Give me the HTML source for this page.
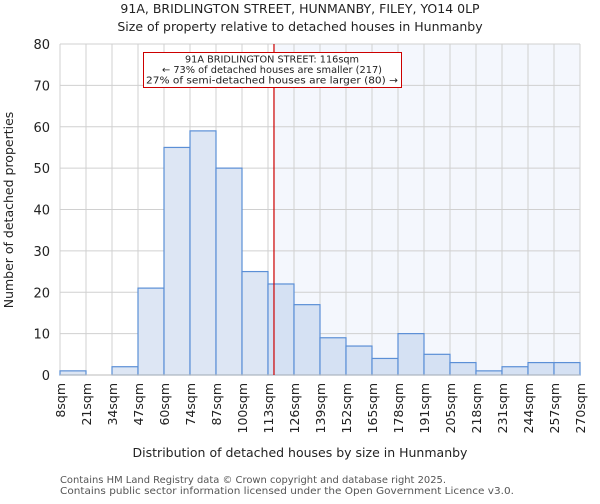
<!DOCTYPE html>
<html><head><meta charset="utf-8"><style>
body{margin:0;background:#fff;font-family:"DejaVu Sans","Liberation Sans",sans-serif;}
svg text{font-family:"DejaVu Sans","Liberation Sans",sans-serif;}
</style></head><body>
<svg id="chart" width="600" height="500" viewBox="0 0 600 500" xmlns="http://www.w3.org/2000/svg">
<text x="300" y="13" text-anchor="middle" font-size="12.5" fill="#222">91A, BRIDLINGTON STREET, HUNMANBY, FILEY, YO14 0LP</text>
<text x="300" y="31" text-anchor="middle" font-size="12.5" fill="#222">Size of property relative to detached houses in Hunmanby</text>
<g id="grid"></g><g id="bars"></g><g id="axes"></g>
<text x="300" y="457" text-anchor="middle" font-size="12.5" fill="#222">Distribution of detached houses by size in Hunmanby</text>
<text transform="translate(13,210) rotate(-90)" text-anchor="middle" font-size="12.5" fill="#222">Number of detached properties</text>
<text x="60" y="483" font-size="10" fill="#555" textLength="386" lengthAdjust="spacingAndGlyphs">Contains HM Land Registry data © Crown copyright and database right 2025.</text>
<text x="60" y="494" font-size="10" fill="#555" textLength="454" lengthAdjust="spacingAndGlyphs">Contains public sector information licensed under the Open Government Licence v3.0.</text>
</svg>
<script>
const categories=["8sqm","21sqm","34sqm","47sqm","60sqm","74sqm","87sqm","100sqm","113sqm","126sqm","139sqm","152sqm","165sqm","178sqm","191sqm","205sqm","218sqm","231sqm","244sqm","257sqm","270sqm"];
const counts=[1,0,2,21,55,59,50,25,22,17,9,7,4,10,5,3,1,2,3,3];
const yTicks=[0,10,20,30,40,50,60,70,80];
const markerBin=8.23;
const NS="http://www.w3.org/2000/svg";
const X0=60,X1=580,Y0=375,Y1=44,YMAX=80;
const bw=(X1-X0)/counts.length;
const xs=i=>X0+i*bw;
const ys=v=>Y0-(v/YMAX)*(Y0-Y1);
function mk(tag,attrs,parent){const e=document.createElementNS(NS,tag);for(const k in attrs)e.setAttribute(k,attrs[k]);parent.appendChild(e);return e;}
const grid=document.getElementById('grid'),bars=document.getElementById('bars'),axes=document.getElementById('axes');
const mx=xs(markerBin);
let sh=mk('rect',{x:mx,y:Y1,width:X1-mx,height:Y0-Y1,fill:'#f4f7fd'},grid);


yTicks.forEach(t=>{
 let l=mk('line',{x1:X0,x2:X1,y1:ys(t),y2:ys(t),stroke:'#d0d0d0','stroke-width':1},grid);
 
 
 let tx=mk('text',{x:X0-10,y:ys(t)+5,'text-anchor':'end','font-size':13,fill:'#222'},axes);
 tx.textContent=t;
 
 
});
categories.forEach((c,i)=>{
 let l=mk('line',{x1:xs(i),x2:xs(i),y1:Y1,y2:Y0,stroke:'#d0d0d0','stroke-width':1},grid);
 
 
 let tx=mk('text',{transform:`translate(${xs(i)+5},383) rotate(-90)`,'text-anchor':'end','font-size':12.5,fill:'#222'},axes);
 tx.textContent=c;
 
 
});
counts.forEach((v,i)=>{
 if(v<=0)return;
 let r=mk('rect',{x:xs(i),y:ys(v),width:bw,height:Y0-ys(v),fill:i>=8?'#d5e1f3':'#dde6f4',stroke:'#5b8fd6','stroke-width':1.2},bars);
 
 
});
let ax=mk('line',{x1:X0,x2:X1,y1:Y0,y2:Y0,stroke:'#bbb','stroke-width':1},axes);


let ml=mk('line',{x1:mx,x2:mx,y1:Y1,y2:Y0,stroke:'#cc0000','stroke-width':1.2},axes);


let box=mk('rect',{x:143.5,y:52.5,width:258,height:35,fill:'#fff',stroke:'#cc0000','stroke-width':1},axes);


const ann=["91A BRIDLINGTON STREET: 116sqm","← 73% of detached houses are smaller (217)","27% of semi-detached houses are larger (80) →"];
const annLen=[174,220,252];
ann.forEach((s,i)=>{
 let t=mk('text',{x:272,y:62.5+i*10.5,'text-anchor':'middle','font-size':10,fill:'#222',textLength:annLen[i],lengthAdjust:'spacingAndGlyphs'},axes);
 t.textContent=s;
 
 
});
</script>
</body></html>
